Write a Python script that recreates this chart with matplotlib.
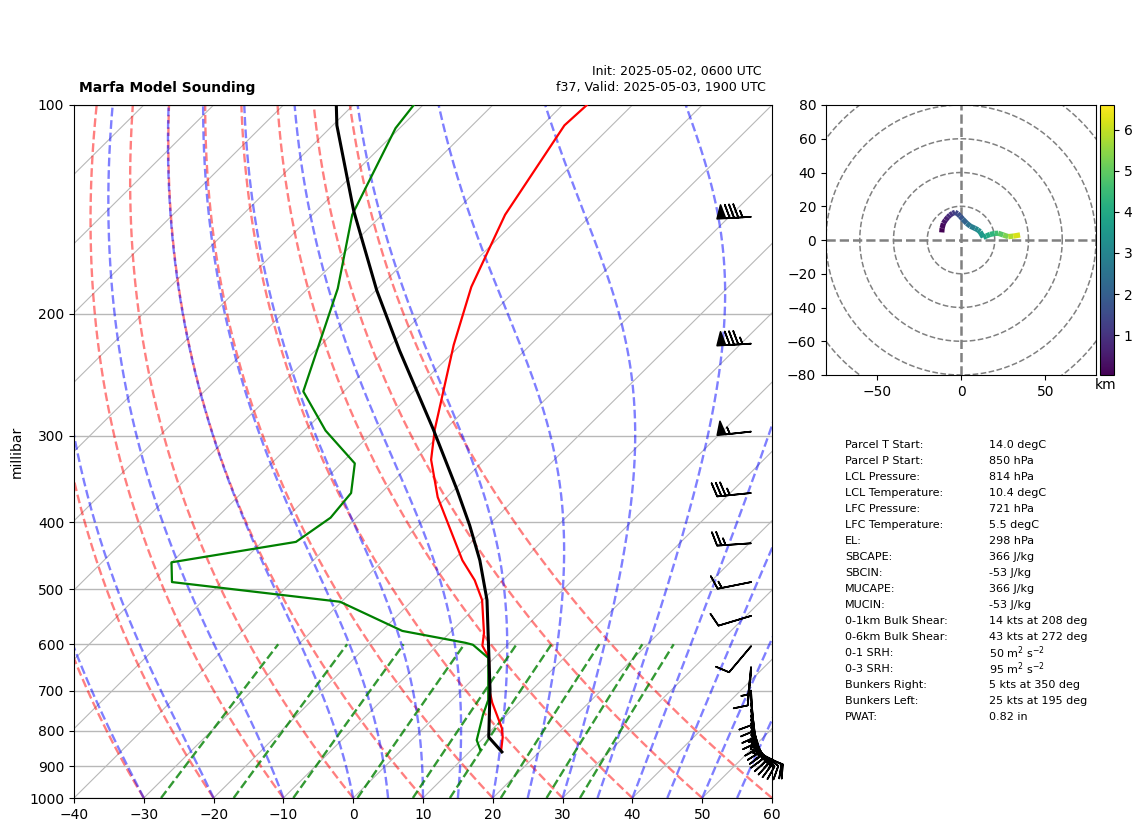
import numpy as np
import matplotlib
matplotlib.use("Agg")
import matplotlib.pyplot as plt
from matplotlib.collections import LineCollection
from matplotlib.colors import Normalize
from matplotlib.cm import ScalarMappable
from matplotlib.transforms import Affine2D

# --- sounding profiles (hPa, degC) ---
temp_p = [852, 817, 793, 729, 698, 628, 603, 578, 518, 485, 454, 368, 325, 294, 222, 183, 144, 107, 100]
temp_c = [14.25, 12.64, 11.23, 6.2, 3.89, -0.74, -3.46, -5.07, -10.1, -14.02, -18.65, -31.31, -37.65, -41.48, -50.97, -56.83, -62.4, -66.8, -66.52]
dew_p = [852, 825, 759, 722, 628, 601, 597, 574, 521, 488, 457, 427, 394, 363, 329, 295, 259, 184, 144, 108, 100]
dew_c = [11.25, 9.34, 6.61, 5.2, -0.84, -4.96, -6.36, -17.07, -30.2, -57.12, -60.04, -45.16, -43.69, -44.31, -48.05, -56.98, -65.82, -75.73, -84.3, -90.59, -91.32]
parcel_p = [858, 817, 698, 518, 454, 404, 359, 294, 226, 185, 142, 107, 100]
parcel_c = [14.65, 10.64, 3.99, -9.4, -16.15, -22.68, -29.62, -41.68, -57.96, -69.92, -84.71, -99.4, -102.42]

# --- wind barbs (hPa, knots) ---
barb_p = [145, 221, 296, 363, 429, 488, 546, 604, 647, 657, 700, 715, 730, 745, 760, 770, 780, 790, 800, 810, 820, 830, 840, 850, 858]
barb_u = [85, 85, 55, 35, 25, 15, 10, 6.5, 0.5, 1, -0.5, -1, -1.5, -2, -3, -4, -4.5, -5, -6, -7, -8, -9, -10, -11, -11.5]
barb_v = [5, 5, 6, 3.5, 1.7, 3, 3, 7.7, 5, 10, 10, 11, 12, 14, 15, 15, 14, 14, 13, 12, 11, 9.5, 7.5, 5.5, 4.5]

# --- hodograph (knots, km) ---
hodo_u = [-11.4, -11.2, -10.4, -9.2, -7.8, -6.5, -5.0, -3.5, -2.0, -0.6, 1.0, 3.4, 5.5, 8.3, 10.0, 11.3, 13.2, 15.0, 17.2, 20.0, 22.1, 25.0, 28.0, 31.0, 35.0]
hodo_v = [4.5, 7.0, 9.9, 11.8, 13.5, 14.8, 15.8, 16.4, 15.6, 14.2, 12.4, 9.9, 8.2, 6.9, 6.0, 4.9, 1.6, 2.4, 3.3, 3.9, 4.0, 3.0, 2.0, 2.3, 3.0]
hodo_h = [0.03, 0.2, 0.4, 0.6, 0.8, 1.0, 1.2, 1.4, 1.6, 1.8, 2.1, 2.5, 2.8, 3.1, 3.3, 3.5, 3.7, 4.0, 4.3, 4.6, 4.9, 5.3, 5.8, 6.2, 6.6]

# --- background reference lines ---
isotherms = np.arange(-140, 61, 10)
dry_t0 = np.arange(-30, 61, 10)
moist_t0 = [-30, -20, -10, 0, 5, 10, 15, 20, 25, 30, 35, 40, 45, 50, 55]
mixing_w = [0.0004, 0.001, 0.002, 0.004, 0.007, 0.01, 0.016, 0.024, 0.032]
yticks = [100, 200, 300, 400, 500, 600, 700, 800, 900, 1000]
xticks = np.arange(-40, 61, 10)

# --- text tables ---
table_left = ["Parcel T Start:", "Parcel P Start:", "LCL Pressure:", "LCL Temperature:",
              "LFC Pressure:", "LFC Temperature:", "EL:", "SBCAPE:", "SBCIN:", "MUCAPE:",
              "MUCIN:", "0-1km Bulk Shear:", "0-6km Bulk Shear:", "0-1 SRH:", "0-3 SRH:",
              "Bunkers Right:", "Bunkers Left:", "PWAT:"]
table_right = ["14.0 degC", "850 hPa", "814 hPa", "10.4 degC", "721 hPa", "5.5 degC",
               "298 hPa", "366 J/kg", "-53 J/kg", "366 J/kg", "-53 J/kg",
               "14 kts at 208 deg", "43 kts at 272 deg",
               r"50 m$^2$ s$^{-2}$", r"95 m$^2$ s$^{-2}$",
               "5 kts at 350 deg", "25 kts at 195 deg", "0.82 in"]

W, H = 1142, 832
fig = plt.figure(figsize=(W / 100, H / 100), dpi=100)


def rect(l, t, r, b):
    return [l / W, 1 - b / H, (r - l) / W, (b - t) / H]


ax = fig.add_axes(rect(74, 105, 772, 798))
ax.set_yscale("log")
ax.set_xlim(-40, 60)
ax.set_ylim(1000, 100)
ax.set_yticks(yticks)
ax.set_yticklabels([str(v) for v in yticks])
ax.minorticks_off()
ax.set_xticks(xticks)
ax.tick_params(labelsize=10)
ax.set_ylabel("millibar", fontsize=10)
ax.grid(True, axis="y", color="0.72", lw=1)
ax.set_axisbelow(True)

# skew applied in display space about the bottom of the axes: one axes width over the axes height
y0 = H - 798
skew_deg = np.degrees(np.arctan(698 / 693))
skew = ax.transData + Affine2D().translate(0, -y0).skew_deg(skew_deg, 0).translate(0, y0)

for t in isotherms:
    ax.plot([t, t], [1000, 100], transform=skew, color="0.72", lw=0.8, zorder=1)

pr = np.geomspace(1000, 100, 200)
for t0 in dry_t0:
    ax.plot((t0 + 273.15) * (pr / 1000) ** 0.2854 - 273.15, pr, transform=skew,
            color="r", alpha=0.5, lw=1.7, ls="--", zorder=2)


def es(tk):
    return 6.112 * np.exp(17.67 * (tk - 273.15) / (tk - 29.65))


def moist_rhs(p, tk):
    rs = 0.622 * es(tk) / (p - es(tk))
    Rd, cp, Lv, eps = 287.05, 1004.7, 2.501e6, 0.622
    return (Rd * tk + Lv * rs) / (cp + Lv ** 2 * rs * eps / (Rd * tk ** 2)) / p


for t0 in moist_t0:
    tk = t0 + 273.15
    prof = [tk]
    for p1, p2 in zip(pr[:-1], pr[1:]):
        dp = p2 - p1
        k1 = moist_rhs(p1, tk)
        k2 = moist_rhs(p1 + dp / 2, tk + dp * k1 / 2)
        k3 = moist_rhs(p1 + dp / 2, tk + dp * k2 / 2)
        k4 = moist_rhs(p2, tk + dp * k3)
        tk = tk + dp * (k1 + 2 * k2 + 2 * k3 + k4) / 6
        prof.append(tk)
    ax.plot(np.array(prof) - 273.15, pr, transform=skew,
            color="b", alpha=0.5, lw=1.7, ls="--", zorder=2)

pm = np.geomspace(1000, 600, 50)
for w in mixing_w:
    e = pm * w / (0.622 + w)
    td = 243.5 * np.log(e / 6.112) / (17.67 - np.log(e / 6.112))
    ax.plot(td, pm, transform=skew, color="green", alpha=0.8, lw=1.7, ls="--", zorder=2)

ax.plot(temp_c, temp_p, transform=skew, color="red", lw=1.6, zorder=4)
ax.plot(dew_c, dew_p, transform=skew, color="green", lw=1.6, zorder=4)
ax.plot(parcel_c, parcel_p, transform=skew, color="black", lw=2.2, zorder=5)

ax.barbs(np.full(len(barb_p), 0.97), barb_p, barb_u, barb_v,
         transform=ax.get_yaxis_transform(), clip_on=False, length=7, lw=1.2,
         color="black", zorder=6)


def txt(x, y, s, **kw):
    fig.text(x / W, 1 - y / H, s, va="center", **kw)


txt(79, 88, "Marfa Model Sounding", fontsize=10, fontweight="bold", ha="left")
txt(762, 71, "Init: 2025-05-02, 0600 UTC", fontsize=9, ha="right")
txt(766, 88, "f37, Valid: 2025-05-03, 1900 UTC", fontsize=9.1, ha="right")

for i, (a, b) in enumerate(zip(table_left, table_right)):
    y = 445 + i * 16
    txt(845, y, a, fontsize=8, ha="left")
    txt(989, y, b, fontsize=8, ha="left")

# hodograph
hax = fig.add_axes(rect(826, 105, 1096, 375))
hax.set_xlim(-80, 80)
hax.set_ylim(-80, 80)
hax.set_xticks([-50, 0, 50])
hax.set_yticks(np.arange(-80, 81, 20))
hax.tick_params(labelsize=10)
theta = np.linspace(0, 2 * np.pi, 300)
for r in [20, 40, 60, 80, 100]:
    hax.plot(r * np.cos(theta), r * np.sin(theta), color="gray", lw=1.1, ls="--")
hax.axhline(0, color="gray", lw=1.8, ls="--")
hax.axvline(0, color="gray", lw=1.8, ls="--")

pts = np.column_stack([hodo_u, hodo_v])
segs = np.stack([pts[:-1], pts[1:]], axis=1)
norm = Normalize(0.03, 6.6)
lc = LineCollection(segs, cmap="viridis", norm=norm, linewidths=3.8, zorder=5)
lc.set_array(np.array(hodo_h[:-1]))
hax.add_collection(lc)

cax = fig.add_axes(rect(1100, 105, 1114, 375))
cb = fig.colorbar(ScalarMappable(norm=norm, cmap="viridis"), cax=cax)
cb.set_ticks([1, 2, 3, 4, 5, 6])
cb.ax.tick_params(labelsize=10)
txt(1106, 385, "km", fontsize=10, ha="center")

fig.savefig("out.png", dpi=100)
